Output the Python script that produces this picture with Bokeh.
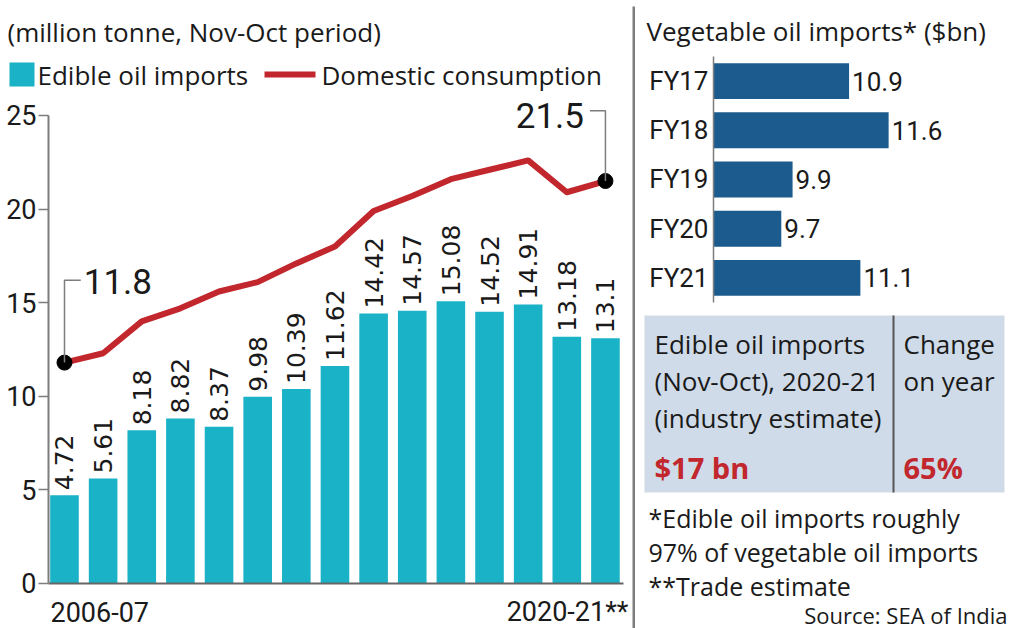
import math
from bokeh.plotting import figure
from bokeh.models import Range1d, LinearAxis, FixedTicker
from bokeh.embed import file_html
from bokeh.resources import INLINE
from bokeh.core.properties import value

# ---------------- data ----------------
years = ["2006-07", "2007-08", "2008-09", "2009-10", "2010-11", "2011-12", "2012-13",
         "2013-14", "2014-15", "2015-16", "2016-17", "2017-18", "2018-19", "2019-20", "2020-21"]
imports_mt = [4.72, 5.61, 8.18, 8.82, 8.37, 9.98, 10.39, 11.62, 14.42, 14.57, 15.08, 14.52, 14.91, 13.18, 13.1]
consumption_mt = [11.8, 12.3, 14.0, 14.7, 15.6, 16.1, 17.1, 18.0, 19.9, 20.7, 21.6, 22.1, 22.6, 20.9, 21.5]
y_ticks = [0, 5, 10, 15, 20, 25]
end_labels = ["2006-07", "2020-21**"]
left_title = "(million tonne, Nov-Oct period)"
legend_labels = ["Edible oil imports", "Domestic consumption"]

fy_labels = ["FY17", "FY18", "FY19", "FY20", "FY21"]
veg_imports_bn = [10.9, 11.6, 9.9, 9.7, 11.1]
veg_axis_start = 8.5
right_title = "Vegetable oil imports* ($bn)"
box_left_lines = ["Edible oil imports", "(Nov-Oct), 2020-21", "(industry estimate)"]
box_left_value = "$17 bn"
box_right_lines = ["Change", "on year"]
box_right_value = "65%"
footnotes = ["*Edible oil imports roughly", "97% of vegetable oil imports", "**Trade estimate"]
source_note = "Source: SEA of India"

# ---------------- styles ----------------
TEAL = "#19b2c6"
RED = "#c1272d"
BLUE = "#1b5b8e"
BOXC = "#cfdbe8"
INK = "#1a1a1a"
GREY = "#7d7d7d"
NUM = "Roboto"
SANS = "Open Sans"

idx = list(range(len(years)))
fy_pos = list(range(len(fy_labels)))

# one canvas; main ranges = left chart, extra ranges = right chart + page pixels
p = figure(width=1010, height=628, output_backend="svg", toolbar_location=None,
           x_range=Range1d(-1.656, 24.483), y_range=Range1d(-2.404, 31.143),
           x_axis_location=None, y_axis_location=None,
           min_border=0, min_border_left=0, min_border_right=0,
           min_border_top=0, min_border_bottom=0)
p.outline_line_color = None
p.border_fill_color = "white"
p.background_fill_color = "white"
p.grid.visible = False
p.extra_x_ranges = {"gx": Range1d(0, 1010), "hx": Range1d(-4.119, 13.757)}
p.extra_y_ranges = {"gy": Range1d(628, 0), "hy": Range1d(11.126, -1.638)}

# ---------------- left chart ----------------
yax = LinearAxis(ticker=FixedTicker(ticks=y_ticks), bounds=(0, 25), fixed_location=-0.414,
                 axis_line_color=GREY, axis_line_width=2,
                 major_tick_line_color=GREY, major_tick_line_width=1.5,
                 major_tick_out=10, major_tick_in=0, minor_tick_out=0, minor_tick_in=0,
                 major_label_standoff=2, major_label_text_font=NUM,
                 major_label_text_font_size="27px", major_label_text_color=INK)
p.add_layout(yax, "left")
xax = LinearAxis(ticker=FixedTicker(ticks=[]), bounds=(-0.414, 14.467), fixed_location=0,
                 axis_line_color="#666666", axis_line_width=2,
                 major_tick_out=0, major_tick_in=0, minor_tick_out=0, minor_tick_in=0,
                 major_label_text_font_size="0px")
p.add_layout(xax, "below")

p.vbar(x=idx, top=imports_mt, width=0.74, fill_color=TEAL, line_color=None)
p.text(x=idx, y=imports_mt, text=[f"{v:g}" for v in imports_mt], angle=math.pi / 2,
       text_align="left", text_baseline="middle", y_offset=-5,
       text_font=value("DejaVu Sans"), text_font_size="25px", text_color=INK)

p.line(x=idx, y=consumption_mt, line_color=RED, line_width=6, line_join="round")
ends = [0, len(idx) - 1]
p.scatter(x=[idx[i] for i in ends], y=[consumption_mt[i] for i in ends], size=15,
          fill_color="black", line_color="black")

i0, i1 = ends
c0, c1 = consumption_mt[i0], consumption_mt[i1]
p.line(x=[idx[i0], idx[i0], idx[i0] + 0.42], y=[c0, c0 + 4.4, c0 + 4.4], line_color=GREY, line_width=1.5)
p.text(x=[idx[i0] + 0.42], y=[c0 + 4.4], text=[f"{c0:g}"], x_offset=3, y_offset=1,
       text_baseline="middle", text_font=value(NUM), text_font_size="35px", text_color=INK)
p.line(x=[idx[i1], idx[i1], idx[i1] - 0.4], y=[c1, c1 + 3.75, c1 + 3.75], line_color=GREY, line_width=1.5)
p.text(x=[idx[i1] - 0.4], y=[c1 + 3.75], text=[f"{c1:g}"], x_offset=-6, y_offset=5,
       text_align="right", text_baseline="middle", text_font=value(NUM),
       text_font_size="35px", text_color=INK)

p.text(x=idx[:1] + idx[-1:], y=[611, 611], text=end_labels, x_offset=[-14, 23],
       text_align=["left", "right"], y_range_name="gy", text_baseline="middle",
       text_font=value(NUM), text_font_size="27px", text_color=INK)

# title + legend (page pixel coordinates)
def gtext(x, y, t, size="26px", font=SANS, color=INK, align="left", style="normal"):
    p.text(x=[x], y=[y], text=[t], x_range_name="gx", y_range_name="gy",
           text_align=align, text_baseline="middle", text_font=value(font),
           text_font_size=size, text_color=color, text_font_style=style)

gtext(7, 31, left_title)
p.quad(left=[9], right=[34], top=[62], bottom=[86], x_range_name="gx", y_range_name="gy",
       fill_color=TEAL, line_color=None)
gtext(37, 74, legend_labels[0])
p.line(x=[264, 315], y=[74, 74], x_range_name="gx", y_range_name="gy", line_color=RED, line_width=6)
gtext(321, 74, legend_labels[1])

# ---------------- right panel ----------------
fyax = LinearAxis(x_range_name="hx", y_range_name="hy", fixed_location=veg_axis_start,
                  ticker=FixedTicker(ticks=fy_pos), bounds=(-0.5, len(fy_labels) - 0.5),
                  major_label_overrides={k: t for k, t in zip(fy_pos, fy_labels)},
                  axis_line_color=GREY, axis_line_width=1.5,
                  major_tick_out=0, major_tick_in=0, minor_tick_out=0, minor_tick_in=0,
                  major_label_standoff=5, major_label_text_font=NUM,
                  major_label_text_font_size="26px", major_label_text_color=INK)
p.add_layout(fyax, "left")

p.hbar(y=fy_pos, left=veg_axis_start, right=veg_imports_bn, height=0.73, x_range_name="hx",
       y_range_name="hy", fill_color=BLUE, line_color=None)
p.text(x=veg_imports_bn, y=fy_pos, text=[f"{v:g}" for v in veg_imports_bn], x_offset=3,
       x_range_name="hx", y_range_name="hy", text_baseline="middle",
       text_font=value(NUM), text_font_size="26px", text_color=INK)

p.quad(left=[632], right=[634.5], top=[6], bottom=[628], x_range_name="gx", y_range_name="gy",
       fill_color=GREY, line_color=None)
p.quad(left=[644], right=[1004], top=[315], bottom=[492], x_range_name="gx", y_range_name="gy",
       fill_color=BOXC, line_color=None)
p.quad(left=[892], right=[894], top=[315], bottom=[492], x_range_name="gx", y_range_name="gy",
       fill_color="#555555", line_color=None)

gtext(646, 30, right_title)
for k, t in enumerate(box_left_lines):
    gtext(654, 343 + 37 * k, t)
gtext(654, 467, box_left_value, size="29px", color=RED, style="bold")
for k, t in enumerate(box_right_lines):
    gtext(903, 343 + 37 * k, t)
gtext(903, 467, box_right_value, size="29px", color=RED, style="bold")
for k, t in enumerate(footnotes):
    gtext(648, 517 + 34 * k, t, size="25px")
gtext(1007, 614, source_note, size="22px", align="right")

open("out.html", "w").write(file_html(p, INLINE))
